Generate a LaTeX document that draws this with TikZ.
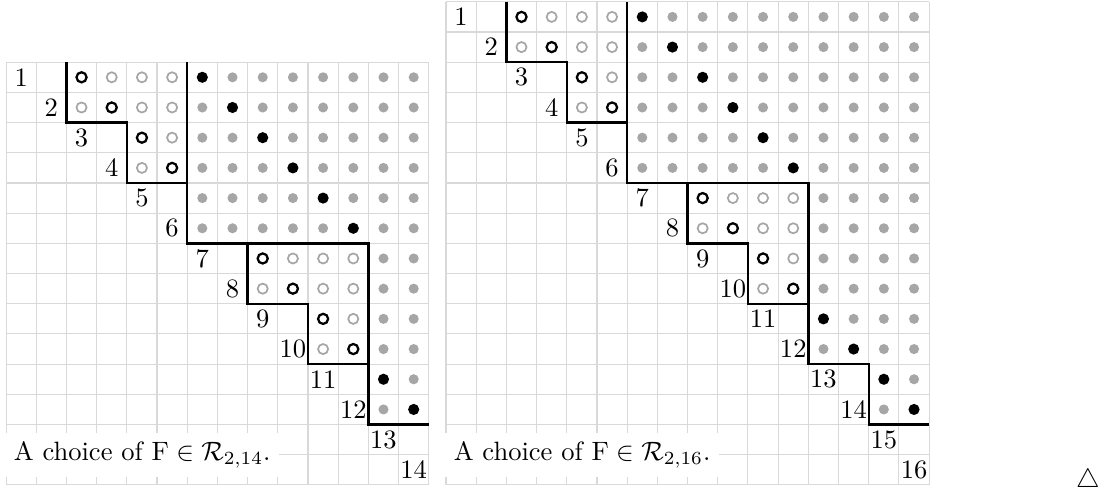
\documentclass[tikz,border=0pt]{standalone}
\usepackage{amsmath,amssymb}
\usepackage{tikz}
\usetikzlibrary{positioning}
\tikzset{
  cellgrid/.style={black!15, line width=0.4pt},
  stair/.style={black, line width=0.9pt},
  gdot/.style={fill=black!35},
  bdot/.style={fill=black},
  gring/.style={draw=black!35, line width=0.65pt},
  bring/.style={draw=black, line width=0.85pt},
  diaglabel/.style={inner sep=0pt, font=\normalsize},
  capbox/.style={fill=white, anchor=west, inner sep=3.3pt},
}
\newcommand{\Rset}{\mathcal{R}}

\begin{document}
\begin{tikzpicture}[x=0.4cm, y=-0.4cm]
  \useasboundingbox (-0.2,-2.06) rectangle (36.46,14.17);

  % Left grid: F in R_{2,14}
  \begin{scope}
    \foreach \k in {0,...,14} {
      \draw[cellgrid] (\k,0) -- (\k,14);
      \draw[cellgrid] (0,\k) -- (14,\k);
    }
    % Staircase
    \draw[stair] (2,0) -- (2,2) -- (4,2) -- (4,4) -- (6,4);
    \draw[stair] (6,0) -- (6,6) -- (12,6) -- (12,12) -- (14,12);
    \draw[stair] (8,6) -- (8,8) -- (10,8) -- (10,10) -- (12,10);
    % Open circles (blocks)
    \foreach \r/\c in {1/4,1/5,1/6,2/3,2/5,2/6,3/6,4/5,
                       7/10,7/11,7/12,8/9,8/11,8/12,9/12,10/11}
      \path[gring] (\c-0.5,\r-0.5) circle[radius=1.9pt];
    \foreach \r/\c in {1/3,2/4,3/5,4/6,7/9,8/10,9/11,10/12}
      \path[bring] (\c-0.5,\r-0.5) circle[radius=1.9pt];
    % Filled dots
    \foreach \r in {1,...,6}
      \foreach \c in {7,...,14} {
        \ifnum\c=\numexpr\r+6\relax
          \path[bdot] (\c-0.5,\r-0.5) circle[radius=2.1pt];
        \else
          \path[gdot] (\c-0.5,\r-0.5) circle[radius=1.9pt];
        \fi
      }
    \foreach \r in {7,...,12}
      \foreach \c in {13,14} {
        \ifnum\c=\numexpr\r+2\relax
          \path[bdot] (\c-0.5,\r-0.5) circle[radius=2.1pt];
        \else
          \path[gdot] (\c-0.5,\r-0.5) circle[radius=1.9pt];
        \fi
      }
    % Diagonal labels
    \foreach \i in {1,...,14}
      \node[diaglabel] (l\i) at (\i-0.5,\i-0.5) {\i};
    \node[capbox] (capl) at (-0.05,13)
      {A choice of $\mathrm{F}\in\Rset_{2,14}$.};
  \end{scope}

  % Right grid: F in R_{2,16}
  \begin{scope}[shift={(14.57,-2)}]
    \foreach \k in {0,...,16} {
      \draw[cellgrid] (\k,0) -- (\k,16);
      \draw[cellgrid] (0,\k) -- (16,\k);
    }
    % Staircase
    \draw[stair] (2,0) -- (2,2) -- (4,2) -- (4,4) -- (6,4);
    \draw[stair] (6,0) -- (6,6) -- (12,6) -- (12,12) -- (14,12)
      -- (14,14) -- (16,14);
    \draw[stair] (8,6) -- (8,8) -- (10,8) -- (10,10) -- (12,10);
    % Open circles (blocks)
    \foreach \r/\c in {1/4,1/5,1/6,2/3,2/5,2/6,3/6,4/5,
                       7/10,7/11,7/12,8/9,8/11,8/12,9/12,10/11}
      \path[gring] (\c-0.5,\r-0.5) circle[radius=1.9pt];
    \foreach \r/\c in {1/3,2/4,3/5,4/6,7/9,8/10,9/11,10/12}
      \path[bring] (\c-0.5,\r-0.5) circle[radius=1.9pt];
    % Filled dots
    \foreach \r in {1,...,6}
      \foreach \c in {7,...,16} {
        \ifnum\c=\numexpr\r+6\relax
          \path[bdot] (\c-0.5,\r-0.5) circle[radius=2.1pt];
        \else
          \path[gdot] (\c-0.5,\r-0.5) circle[radius=1.9pt];
        \fi
      }
    \foreach \r in {7,...,12}
      \foreach \c in {13,...,16} {
        \ifnum\c=\numexpr\r+2\relax
          \path[bdot] (\c-0.5,\r-0.5) circle[radius=2.1pt];
        \else
          \path[gdot] (\c-0.5,\r-0.5) circle[radius=1.9pt];
        \fi
      }
    \foreach \r in {13,14}
      \foreach \c in {15,16} {
        \ifnum\c=\numexpr\r+2\relax
          \path[bdot] (\c-0.5,\r-0.5) circle[radius=2.1pt];
        \else
          \path[gdot] (\c-0.5,\r-0.5) circle[radius=1.9pt];
        \fi
      }
    % Diagonal labels
    \foreach \i in {1,...,16}
      \node[diaglabel] (r\i) at (\i-0.5,\i-0.5) {\i};
    \node[capbox] (capr) at (-0.05,15)
      {A choice of $\mathrm{F}\in\Rset_{2,16}$.};
  \end{scope}

  % End mark
  \node[anchor=base, inner sep=0pt] (endmark) at (35.83,14.07) {$\triangle$};
\end{tikzpicture}
\end{document}
